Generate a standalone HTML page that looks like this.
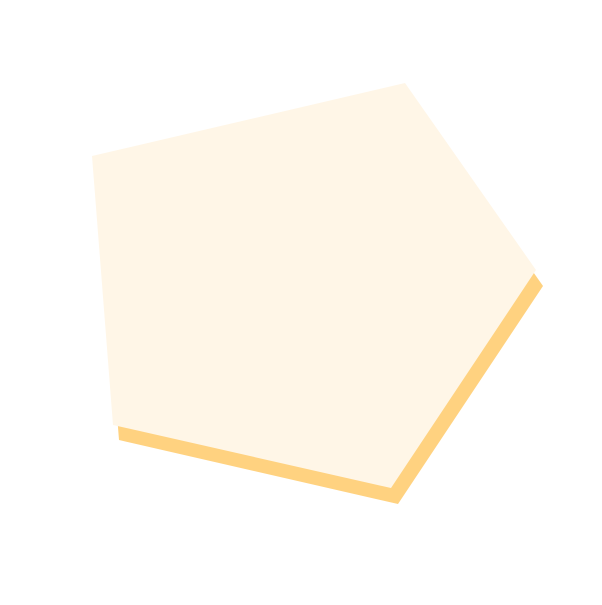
<!DOCTYPE html>
<html>
<head>
<meta charset="utf-8">
<style>
  html, body { margin: 0; padding: 0; background: #ffffff; }
  svg { display: block; }
</style>
</head>
<body>
<svg width="602" height="605" viewBox="0 0 602 605">
  <polygon
    points="98,171 411,98 543,286 398,504 119,440" fill="#FFD280"/>
  <polygon
    points="92,156 405,83 536,270 391,488 113,425" fill="#FFF6E7"/>
</svg>
</body>
</html>
